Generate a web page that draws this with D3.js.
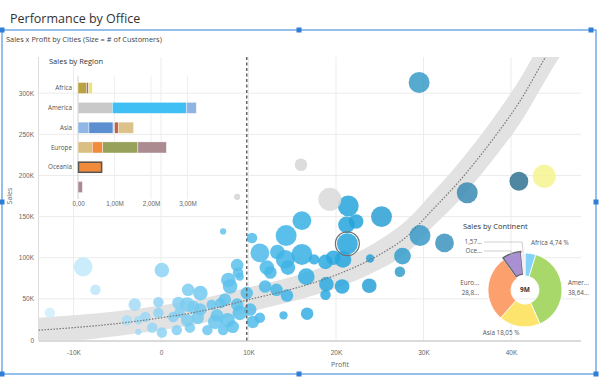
<!DOCTYPE html>
<html>
<head>
<meta charset="utf-8">
<script src="https://cdn.jsdelivr.net/npm/d3@7"></script>
<style>
  body { margin: 0; background: #fff; }
  svg { display: block; font-family: "Open Sans", "Segoe UI", sans-serif; }
</style>
</head>
<body>
<div id="chart"></div>
<script>
// ---- scatter: cities (profit $, sales $, # customers) ----
var cityProfit = [29500,35000,40900,29600,32400,25200,21400,21200,22300,21300,20800,27600,27300,23900,23800,20700,
  16100,14300,13300,14200,16100,17500,18800,19700,12500,16600,18900,13200,14400,18800,14000,16700,
  7100,10400,11300,8700,12100,14500,100,9000,3100,4500,7700,7900,-300,2000,3000,3700,5800,6800,8700,9000,
  -1800,-300,1400,3000,4200,6200,7600,-1000,100,1800,3300,5300,7100,8200,10200,10500,11300,11900,9800,
  -8900,-7500,-12700,-3000,-3900,-2600,-2600,8800,6400,7300,4500,2100];
var citySales = [313000,179000,193000,127000,118000,150000,163000,140000,144000,117000,98000,102000,83000,99000,66000,65000,
  145000,127000,107000,98000,104000,98000,95000,100000,82000,77000,68000,61000,54000,55000,30000,32000,
  132000,124000,106000,91000,88000,88000,85000,77000,61000,57000,73000,65000,46000,45000,43000,40000,43000,45000,43000,33000,
  28000,33000,28000,24000,27000,22000,24000,15000,9000,12000,15000,12000,12000,16000,37000,22000,27000,65000,57000,
  89000,61000,33000,43000,24000,24000,10000,82000,30000,49000,37000,33000];
var cityCustomers = [100,100,81,100,81,100,100,64,49,100,64,64,25,16,49,49,
  81,100,49,81,100,25,49,49,36,64,49,36,36,25,16,36,
  9,25,81,36,49,49,49,16,36,49,49,49,25,36,49,36,25,25,36,49,
  25,25,25,36,36,49,49,25,25,25,25,25,25,36,36,36,25,36,36,
  81,25,25,36,25,16,9,25,36,36,36,25];
var selectedCity = 9;

// cities drawn in other categories (grey / yellow)
var otherProfit = [16000, 19300, 8700, 43800];
var otherSales = [213000, 171000, 174000, 199000];
var otherCustomers = [36, 121, 9, 121];
var otherColors = ['#d6d6d6', '#d9d9d9', '#d4d4d4', '#f7f38f'];

// trend line with band
var trendProfit = [-14000,-10000,-5000,0,5000,10000,15000,20000,25000,28000,31000,34000,38000,41000,44000,46000];
var trendSales = [12000,15000,20000,27000,36000,49000,62000,79000,104000,125000,158000,192000,245000,290000,345000,380000];
var trendBand = [15000,15000,15000,15000,15000,15000,15000,16000,18000,20000,21000,23000,25000,27000,28000,28000];
var refProfit = 9800;

var xTicks = [-10000, 0, 10000, 20000, 30000, 40000];
var yTicks = [0, 50000, 100000, 150000, 200000, 250000, 300000];

// ---- bar inset: sales by region ----
var regions = ['Africa', 'America', 'Asia', 'Europe', 'Oceania', ''];
var regionSegments = [
  [230000, 60000, 100000],
  [940000, 2030000, 270000],
  [300000, 660000, 40000, 100000, 420000],
  [390000, 290000, 960000, 780000],
  [660000],
  [120000]
];
var segmentColors = [
  ['#b8a340', '#a4716b', '#f0e17a'],
  ['#c9c9c9', '#3fbff4', '#8fb4e3'],
  ['#8fb6e4', '#5b8fd0', '#e6cfb8', '#c0604a', '#dcc28a'],
  ['#dbbf82', '#f08b3b', '#98a15a', '#ab8b90'],
  ['#f08b3b'],
  ['#ab8b92']
];
var barTicks = [0, 1000000, 2000000, 3000000];
var selectedRegion = 'Oceania';

// ---- donut: sales by continent ----
var continents = ['Africa', 'America', 'Asia', 'Europe', 'Oceania', ''];
var continentShares = [4.74, 38.64, 18.05, 28.8, 8.2, 1.57];
var continentLabels = [['Africa 4,74 %'], ['Amer...', '38,64...'], ['Asia 18,05 %'], ['Euro...', '28,8...'], ['Oce...'], ['1,57...']];
var continentColors = ['#82d2fa', '#a8d76a', '#fde46c', '#fca06e', '#a890d2', '#ececec'];
var totalLabel = '9M';

var width = 605;
var height = 383;

var svg = d3.select('#chart')
  .append('svg')
  .attr('width', width)
  .attr('height', height);

// page title
svg.append('text')
  .attr('x', 10)
  .attr('y', 23)
  .attr('fill', '#333')
  .style('font-size', '12.5px')
  .text('Performance by Office');

// selection frame
var frame = { x: 2, y: 30, w: 594, h: 344 };
svg.append('rect')
  .attr('x', frame.x).attr('y', frame.y)
  .attr('width', frame.w).attr('height', frame.h)
  .attr('fill', 'none')
  .attr('stroke', '#2f7fd6')
  .attr('stroke-width', 1);

svg.append('text')
  .attr('x', 6)
  .attr('y', 42)
  .attr('fill', '#444')
  .style('font-size', '7.4px')
  .text('Sales x Profit by Cities (Size = # of Customers)');

// ---- scatter ----
var x = d3.scaleLinear().domain([-14000, 48000]).range([38.5, 581]);
var y = d3.scaleLinear().domain([0, 344000]).range([340, 57]);
var r = d3.scaleSqrt().domain([0, 121]).range([0, 11.5]);
var color = d3.scaleLinear()
  .domain([-12000, -5000, 0, 8000, 15000, 22000, 30000, 36000, 42000])
  .range(['#cdeefc', '#b2e2f8', '#8ed3f4', '#5dc1ec', '#3bb2e6', '#22a3dc', '#3b9ac6', '#3a88b0', '#2e6c8a']);

var fmtK = function(d) { return d === 0 ? '0' : (d / 1000) + 'K'; };

var plot = svg.append('g');

// grid
plot.selectAll('.hgrid')
  .data(yTicks.slice(1))
  .enter().append('line')
  .attr('x1', x.range()[0]).attr('x2', x.range()[1])
  .attr('y1', function(d) { return y(d); })
  .attr('y2', function(d) { return y(d); })
  .attr('stroke', '#ececec');

plot.selectAll('.vgrid')
  .data(xTicks)
  .enter().append('line')
  .attr('x1', function(d) { return x(d); })
  .attr('x2', function(d) { return x(d); })
  .attr('y1', y.range()[1]).attr('y2', y.range()[0])
  .attr('stroke', '#ececec');

plot.append('line')
  .attr('x1', x.range()[0]).attr('x2', x.range()[0])
  .attr('y1', y.range()[1]).attr('y2', y.range()[0])
  .attr('stroke', '#dcdcdc');

// axes
var xAxis = plot.append('g')
  .attr('transform', 'translate(0,340)')
  .call(d3.axisBottom(x).tickValues(xTicks).tickSize(0).tickPadding(10).tickFormat(fmtK));
xAxis.select('.domain').remove();
xAxis.selectAll('text').attr('fill', '#666').style('font-size', '6.5px').style('font-family', null);

var yAxis = plot.append('g')
  .attr('transform', 'translate(38.5,0)')
  .call(d3.axisLeft(y).tickValues(yTicks).tickSize(0).tickPadding(4.5).tickFormat(fmtK));
yAxis.select('.domain').remove();
yAxis.selectAll('text').attr('fill', '#666').style('font-size', '6.5px').style('font-family', null);

plot.append('line')
  .attr('x1', x.range()[0]).attr('x2', x.range()[1])
  .attr('y1', 341).attr('y2', 341)
  .attr('stroke', '#dadada')
  .attr('stroke-width', 2);

plot.append('text')
  .attr('x', 340).attr('y', 367)
  .attr('text-anchor', 'middle')
  .attr('fill', '#666')
  .style('font-size', '7px')
  .text('Profit');

plot.append('text')
  .attr('transform', 'translate(12,196) rotate(-90)')
  .attr('text-anchor', 'middle')
  .attr('fill', '#666')
  .style('font-size', '7px')
  .text('Sales');

// trend band + line, clipped to plot area
svg.append('clipPath').attr('id', 'plotclip')
  .append('rect')
  .attr('x', x.range()[0]).attr('y', y.range()[1])
  .attr('width', x.range()[1] - x.range()[0])
  .attr('height', y.range()[0] - y.range()[1]);

var trend = trendProfit.map(function(p, i) {
  return { p: p, s: trendSales[i], lo: trendSales[i] - trendBand[i], hi: trendSales[i] + trendBand[i] };
});

plot.append('path')
  .datum(trend)
  .attr('clip-path', 'url(#plotclip)')
  .attr('fill', '#e2e2e2')
  .attr('d', d3.area()
    .curve(d3.curveMonotoneX)
    .x(function(d) { return x(d.p); })
    .y0(function(d) { return y(Math.max(0, d.lo)); })
    .y1(function(d) { return y(d.hi); }));

// bubbles
var cities = cityProfit.map(function(p, i) {
  return { p: p, s: citySales[i], c: cityCustomers[i], fill: color(p), sel: i === selectedCity };
});
otherProfit.forEach(function(p, i) {
  cities.push({ p: p, s: otherSales[i], c: otherCustomers[i], fill: otherColors[i], sel: false });
});

plot.selectAll('.bubble')
  .data(cities)
  .enter().append('circle')
  .attr('class', 'bubble')
  .attr('cx', function(d) { return x(d.p); })
  .attr('cy', function(d) { return y(d.s); })
  .attr('r', function(d) { return r(d.c); })
  .attr('fill', function(d) { return d.fill; })
  .attr('fill-opacity', 0.85);

var sel = cities.filter(function(d) { return d.sel; });
plot.selectAll('.selring')
  .data(sel)
  .enter().append('circle')
  .attr('cx', function(d) { return x(d.p); })
  .attr('cy', function(d) { return y(d.s); })
  .attr('r', function(d) { return r(d.c) + 1.5; })
  .attr('fill', 'none')
  .attr('stroke', '#6f6f6f')
  .attr('stroke-width', 1.2);

plot.append('path')
  .datum(trend)
  .attr('clip-path', 'url(#plotclip)')
  .attr('fill', 'none')
  .attr('stroke', '#777')
  .attr('stroke-width', 1.2)
  .attr('stroke-dasharray', '1.5,1.5')
  .attr('d', d3.line()
    .curve(d3.curveMonotoneX)
    .x(function(d) { return x(d.p); })
    .y(function(d) { return y(d.s); }));

// reference line
plot.append('line')
  .attr('x1', x(refProfit)).attr('x2', x(refProfit))
  .attr('y1', y.range()[1]).attr('y2', 342)
  .attr('stroke', '#666')
  .attr('stroke-width', 1.5)
  .attr('stroke-dasharray', '3,2.5');

// ---- inset bar chart ----
var bars = svg.append('g');

bars.append('text')
  .attr('x', 49).attr('y', 64)
  .attr('fill', '#333')
  .style('font-size', '7.5px')
  .text('Sales by Region');

var xb = d3.scaleLinear().domain([0, 3300000]).range([78, 198.5]);
var yb = d3.scaleBand().domain(regions).range([73.8, 201.3]).paddingInner(0.44).paddingOuter(0.44);

bars.selectAll('.bgrid')
  .data(barTicks.slice(1))
  .enter().append('line')
  .attr('x1', function(d) { return xb(d); })
  .attr('x2', function(d) { return xb(d); })
  .attr('y1', 76).attr('y2', 199)
  .attr('stroke', '#efefef');

bars.append('line')
  .attr('x1', xb(0)).attr('x2', xb(0))
  .attr('y1', 76).attr('y2', 199)
  .attr('stroke', '#d0d0d0');

var rows = bars.selectAll('.row')
  .data(regions)
  .enter().append('g')
  .attr('class', 'row');

rows.append('text')
  .attr('x', 72)
  .attr('y', function(d) { return yb(d) + yb.bandwidth() / 2; })
  .attr('dy', '0.35em')
  .attr('text-anchor', 'end')
  .attr('fill', '#555')
  .style('font-size', '6.3px')
  .text(function(d) { return d; });

regions.forEach(function(reg, i) {
  var acc = 0;
  var segs = regionSegments[i].map(function(v, j) {
    var s = { x0: acc, x1: acc + v, fill: segmentColors[i][j] };
    acc += v;
    return s;
  });
  bars.selectAll('.seg' + i)
    .data(segs)
    .enter().append('rect')
    .attr('x', function(d) { return xb(d.x0); })
    .attr('width', function(d) { return xb(d.x1) - xb(d.x0); })
    .attr('y', yb(reg))
    .attr('height', yb.bandwidth())
    .attr('fill', function(d) { return d.fill; })
    .attr('stroke', '#fff')
    .attr('stroke-width', 0.4);
  if (reg === selectedRegion) {
    bars.append('rect')
      .attr('x', xb(0) + 0.5)
      .attr('y', yb(reg) + 0.5)
      .attr('width', xb(acc) - xb(0) - 1)
      .attr('height', yb.bandwidth() - 1)
      .attr('fill', 'none')
      .attr('stroke', '#555')
      .attr('stroke-width', 1.5);
  }
});

var barAxis = bars.append('g')
  .attr('transform', 'translate(0,199)')
  .call(d3.axisBottom(xb).tickValues(barTicks).tickSize(0).tickPadding(3)
    .tickFormat(function(d) { return d === 0 ? '0,00' : (d / 1e6).toFixed(2).replace('.', ',') + 'M'; }));
barAxis.select('.domain').remove();
barAxis.selectAll('text').attr('fill', '#666').style('font-size', '6.3px').style('font-family', null);

// ---- donut ----
var pieG = svg.append('g');
var cx = 525, cy = 290, R = 37;

pieG.append('text')
  .attr('x', 463).attr('y', 229)
  .attr('fill', '#333')
  .style('font-size', '7.5px')
  .text('Sales by Continent');

var pie = d3.pie().sort(null).value(function(d) { return d; });
var arc = d3.arc().innerRadius(14).outerRadius(R);
var arcs = pie(continentShares);

pieG.selectAll('.slice')
  .data(arcs)
  .enter().append('path')
  .attr('transform', function(d, i) {
    var a = (d.startAngle + d.endAngle) / 2;
    var off = continents[i] === selectedRegion ? 2 : 0;
    return 'translate(' + (cx + off * Math.sin(a)) + ',' + (cy - off * Math.cos(a)) + ')';
  })
  .attr('d', arc)
  .attr('fill', function(d, i) { return continentColors[i]; })
  .attr('stroke', function(d, i) { return continents[i] === selectedRegion ? '#666' : '#fff'; })
  .attr('stroke-width', function(d, i) { return continents[i] === selectedRegion ? 1.3 : 0.8; });

pieG.append('text')
  .attr('x', cx).attr('y', cy)
  .attr('dy', '0.35em')
  .attr('text-anchor', 'middle')
  .attr('fill', '#333')
  .style('font-size', '6.5px')
  .style('font-weight', 'bold')
  .text(totalLabel);

// labels: right/left of slice, or leader lines for the thin ones near the top
var leaderRow = 0;
arcs.slice().reverse().forEach(function(d, k) {
  var i = arcs.length - 1 - k;
  var a = (d.startAngle + d.endAngle) / 2;
  var px = cx + R * Math.sin(a), py = cy - R * Math.cos(a);
  var lines = continentLabels[i];
  var tx, ty, anchor;
  var share = continentShares[i];
  if (share < 10 && a > Math.PI) {
    ty = cy - 46 + leaderRow * 9;
    tx = 482; anchor = 'end';
    pieG.append('polyline')
      .attr('points', [[484, ty - 2], [px - 1, ty - 2], [px, py]].join(' '))
      .attr('fill', 'none')
      .attr('stroke', '#bbb')
      .attr('stroke-width', 0.7);
    leaderRow++;
  } else if (Math.cos(a) > 0.9) {
    tx = px + 0.5; ty = py - 8; anchor = 'start';
  } else if (Math.cos(a) < -0.9) {
    tx = px; ty = py + 8; anchor = 'end';
  } else if (Math.sin(a) > 0) {
    tx = px + 6; ty = py - 3; anchor = 'start';
  } else {
    tx = px - 9; ty = py - 3; anchor = 'end';
  }
  var t = pieG.append('text')
    .attr('x', tx).attr('y', ty)
    .attr('text-anchor', anchor)
    .attr('fill', '#555')
    .style('font-size', '6.3px');
  lines.forEach(function(l, j) {
    t.append('tspan').attr('x', tx).attr('dy', j === 0 ? 0 : 10).text(l);
  });
});

// frame handles
var handles = [[frame.x, frame.y], [frame.x + frame.w / 2, frame.y], [frame.x + frame.w - 5, frame.y],
  [frame.x, frame.y + frame.h / 2], [frame.x + frame.w, frame.y + frame.h / 2],
  [frame.x, frame.y + frame.h], [frame.x + frame.w / 2, frame.y + frame.h], [frame.x + frame.w, frame.y + frame.h]];
svg.selectAll('.handle')
  .data(handles)
  .enter().append('rect')
  .attr('x', function(d) { return d[0] - 2.5; })
  .attr('y', function(d) { return d[1] - 2.5; })
  .attr('width', 5).attr('height', 5)
  .attr('fill', '#2f7fd6');
</script>
</body>
</html>
